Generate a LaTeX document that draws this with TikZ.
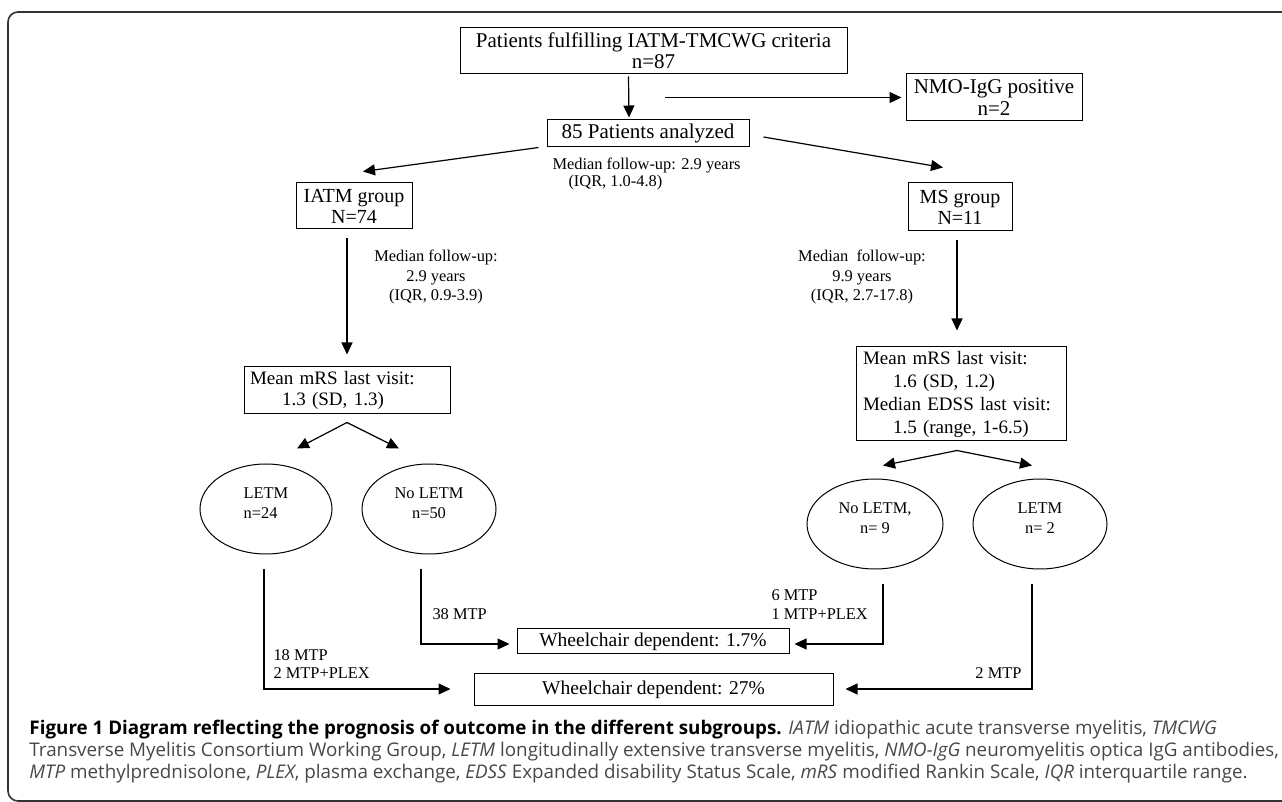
\documentclass[tikz,border=0pt]{standalone}
\usepackage{fontspec}
\setmainfont{Liberation Serif}
\newfontfamily\capfont{Open Sans}
\usetikzlibrary{calc,arrows.meta,shapes.geometric}
\tikzset{x=0.5pt,y=-0.5pt}
\tikzset{
  box/.style={draw, inner sep=0pt, align=center},
  oval/.style={draw, ellipse, inner sep=0pt, align=center, minimum width=66pt, minimum height=45pt,
    text depth=6pt, font=\fontsize{8.2}{9.8}\selectfont},
  note/.style={inner sep=0pt, font=\fontsize{8.2}{9.8}\selectfont},
  arr/.style={-{Triangle[length=6pt,width=5.5pt]}, line width=0.6pt},
}
\def\bigfont{\fontsize{10.5}{10.5}\selectfont}
\def\midfont{\fontsize{9.5}{10.5}\selectfont}

\begin{document}
\begin{tikzpicture}[line width=0.5pt]
\useasboundingbox (0,0) rectangle (1282,802);

% outer frame, open to the right
\draw[line width=0.8pt, black!80, rounded corners=5pt] (1300,12) -- (8,12) -- (8,801) -- (1300,801);

\node[box, font=\bigfont, minimum width=193.5pt, minimum height=23pt] (fulfil) at (653.5,51) {Patients fulfilling IATM-TMCWG criteria\\n=87};
\node[box, font=\bigfont, minimum width=101pt, minimum height=13.5pt] (analyzed) at (648,133.5) {85 Patients analyzed};
\node[box, font=\fontsize{10.5}{11}\selectfont, minimum width=88pt, minimum height=23.5pt] (nmo) at (994,97.5) {NMO-IgG positive\\n=2};
\node[box, font=\fontsize{10}{10.5}\selectfont, minimum width=58pt, minimum height=23pt] (iatm) at (354,206) {IATM group\\N=74};
\node[box, font=\fontsize{10}{10.5}\selectfont, minimum width=52pt, minimum height=24pt] (ms) at (960,207) {MS group\\N=11};

\node[note, anchor=west, align=left, font=\fontsize{8.2}{8.2}\selectfont] (medA) at (552,174) {Median follow-up: 2.9 years\\\hspace*{8pt}(IQR, 1.0-4.8)};
\node[note, align=center] (medL) at (436,277) {Median follow-up:\\2.9 years\\(IQR, 0.9-3.9)};
\node[note, align=center] (medR) at (862,277) {Median\ \ follow-up:\\9.9 years\\(IQR, 2.7-17.8)};

\node[box, align=left, text width=97pt, inner xsep=3pt, minimum height=23.5pt, font=\midfont] (mrsL) at (347,390.5) {Mean mRS last visit:\\\hspace*{16pt}1.3 (SD, 1.3)};
\node[box, align=left, text width=98pt, inner xsep=3.5pt, minimum height=47pt, font=\fontsize{9.5}{11.5}\selectfont] (mrsR) at (961,394) {Mean mRS last visit:\\\hspace*{15pt}1.6 (SD, 1.2)\\Median EDSS last visit:\\\hspace*{15pt}1.5 (range, 1-6.5)};

\node[oval, align=left] (letmL) at (266,509) {LETM\\n=24};
\node[oval, minimum width=67pt] (noletmL) at (429,509) {No LETM\\n=50};
\node[oval, minimum width=68pt] (noletmR) at (875,524) {No LETM,\\n= 9};
\node[oval, minimum width=67pt] (letmR) at (1040,524) {LETM\\n= 2};

\node[box, font=\fontsize{9.75}{10}\selectfont, minimum width=136pt, minimum height=12.5pt] (wc17) at (653,641.5) {Wheelchair dependent: 1.7\%};
\node[box, font=\fontsize{9.75}{10}\selectfont, minimum width=179.5pt, minimum height=16pt] (wc27) at (653.5,690) {Wheelchair dependent: 27\%};

\node[note, anchor=west, align=left, font=\fontsize{8.2}{9}\selectfont] (mtpA) at (273,664) {18 MTP\\2 MTP+PLEX};
\node[note, anchor=west] (mtpB) at (432,614) {38 MTP};
\node[note, anchor=west, align=left, font=\fontsize{8.2}{9.5}\selectfont] (mtpC) at (771,604.5) {6 MTP\\1 MTP+PLEX};
\node[note, anchor=east] (mtpD) at (1022,673) {2 MTP};

% top part
\coordinate (split) at ($(fulfil.south)+(11.5,23)$);
\draw[arr] ($(fulfil.south)+(-25,2)$) -- ($(analyzed.north)+(-19,-2)$);
\draw[arr] (split) -- ($(nmo.west)+(-4,0)$);
\draw[arr] ($(analyzed.south west)+(-8,0)$) -- ($(iatm.north)+(9,-11)$);
\draw[arr] ($(analyzed.east)+(14,3.5)$) -- ($(ms.north)+(-17,-15)$);
\draw[arr] ($(iatm.south)+(-7,9)$) -- ($(mrsL.north)+(0,-12)$);
\draw[arr] ($(ms.south)+(-3,9)$) -- ($(mrsR.north)+(-4,-16)$);

% forks
\coordinate (forkL) at ($(mrsL.south)+(0,8)$);
\draw[arr] (forkL) -- ($(letmL.north)+(31,-15)$);
\draw[arr] (forkL) -- ($(noletmL.north)+(-30,-15)$);
\coordinate (forkR) at ($(mrsR.south)+(-4,9)$);
\draw[arr] (forkR) -- ($(noletmR.north)+(8,-13)$);
\draw[arr] (forkR) -- ($(letmR.north)+(-8,-13)$);

% outcome
\draw[arr] ($(letmL.south)+(-2,15)$) |- ($(wc27.west)+(-23,-1)$);
\draw[arr] ($(noletmL.south)+(-8,15)$) |- ($(wc17.west)+(-7,2.5)$);
\draw[arr] ($(noletmR.south)+(8,15)$) |- ($(wc17.east)+(5,2.5)$);
\draw[arr] ($(letmR.south)+(-8,15)$) |- ($(wc27.east)+(12,-1)$);

\node[anchor=west, align=left, inner sep=0pt, text=black!72, font=\capfont\fontsize{9.4}{11}\selectfont] (caption) at (29,752)
{\textcolor{black}{\textbf{Figure 1 Diagram reflecting the prognosis of outcome in the different subgroups.}} \textit{IATM} idiopathic acute transverse myelitis, \textit{TMCWG}\\
Transverse Myelitis Consortium Working Group, \textit{LETM} longitudinally extensive transverse myelitis, \textit{NMO-IgG} neuromyelitis optica IgG antibodies,\\
\textit{MTP} methylprednisolone, \textit{PLEX}, plasma exchange, \textit{EDSS} Expanded disability Status Scale, \textit{mRS} modified Rankin Scale, \textit{IQR} interquartile range.};

\end{tikzpicture}
\end{document}
